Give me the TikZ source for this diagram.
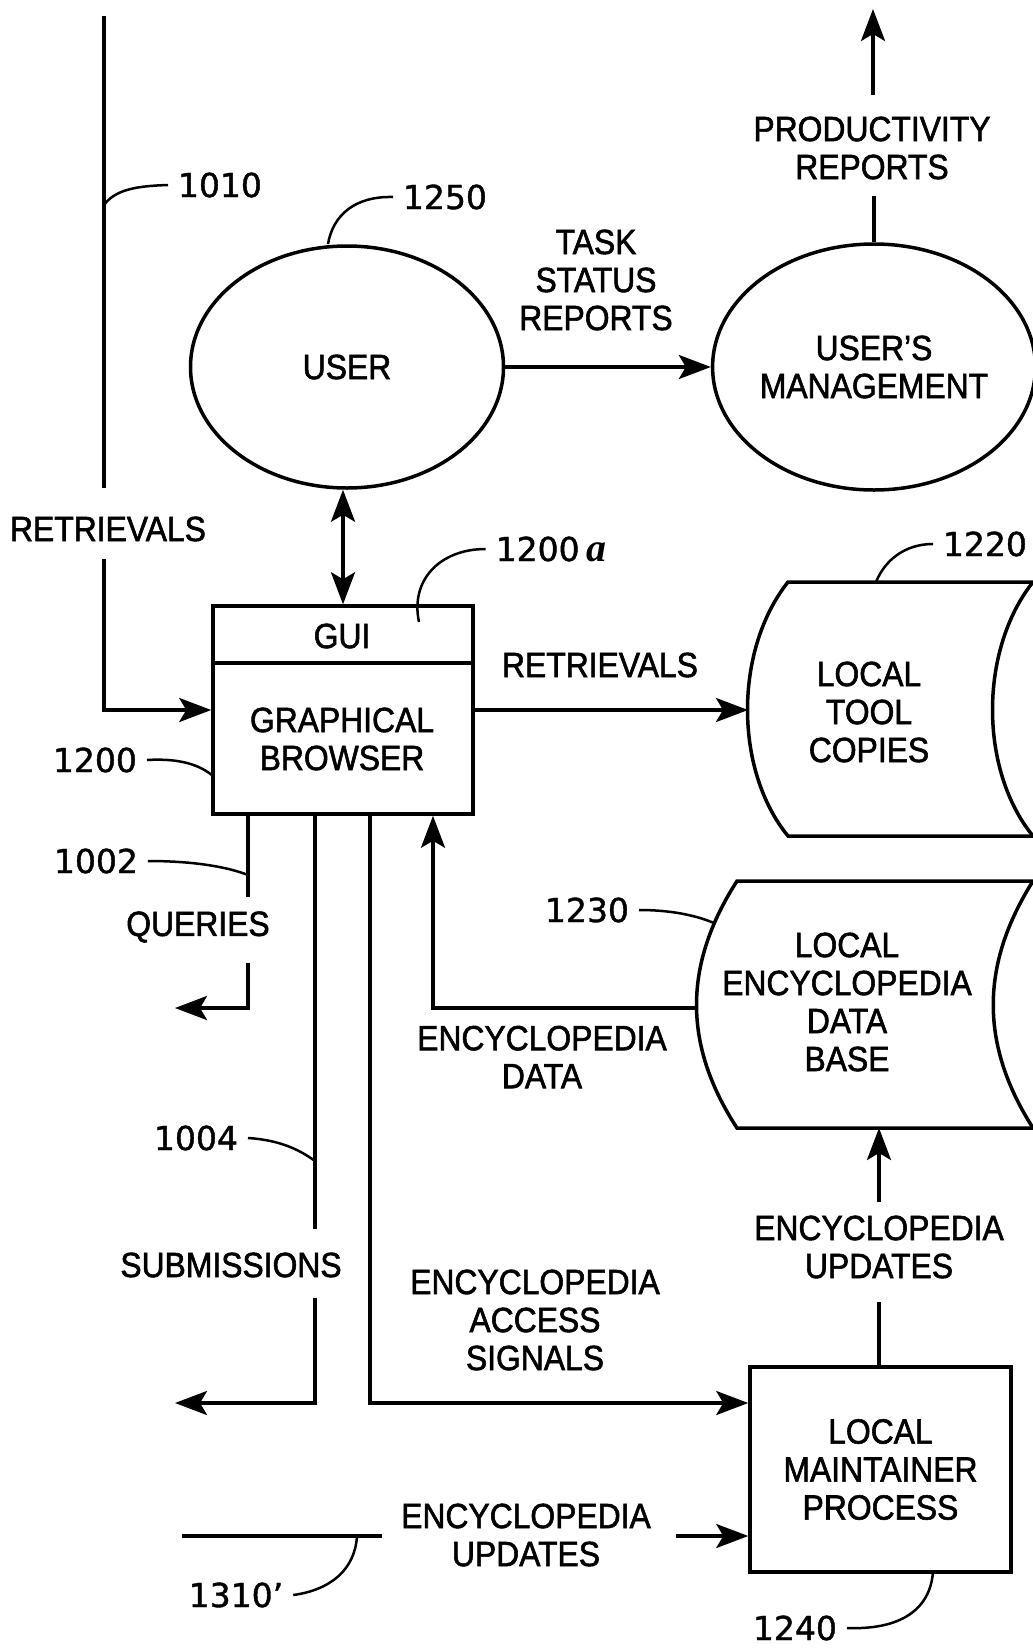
\documentclass[tikz,border=0pt]{standalone}
\usepackage{fontspec}
\setmainfont{Liberation Sans}[FakeStretch=0.91,FakeBold=1.6]
\newfontfamily\numf{DejaVu Sans}[FakeBold=1.2]
\newfontfamily\bif{Liberation Serif}
\usetikzlibrary{arrows.meta,shapes.geometric}
\begin{document}
\begin{tikzpicture}[x=1pt,y=-1pt,
  every node/.style={inner sep=0pt},
  lbl/.style={font=\fontsize{35}{38}\selectfont, align=center},
  num/.style={font=\numf\fontsize{33}{38}\selectfont, outer sep=10pt},
  ln/.style={line width=3.5pt},
  lead/.style={line width=2.5pt},
  ar/.style={line width=3.5pt, -{Stealth[length=32pt,width=24pt,inset=7pt]}},
  dar/.style={line width=3.5pt, {Stealth[length=32pt,width=24pt,inset=7pt]}-{Stealth[length=32pt,width=24pt,inset=7pt]}},
  oval/.style={ellipse, draw, line width=3.5pt, font=\fontsize{35}{38}\selectfont, align=center},
  box/.style={rectangle, draw, line width=3.5pt, font=\fontsize{35}{38}\selectfont, align=center}
]
\fill[white] (0,0) rectangle (1033,1649);
\useasboundingbox (0,0) rectangle (1033,1649);

% main nodes
\node[oval, minimum width=313pt, minimum height=242pt] (user) at (347,367) {USER};
\node[oval, minimum width=310pt, minimum height=246pt] (mgmt) at (874,367) {USER'S\\MANAGEMENT};
\node[box, minimum width=260pt, minimum height=208pt] (gb) at (343,710) {};
\node[lbl] (gui) at (342,636) {GUI};
\node[lbl] (gbt) at (342,739) {GRAPHICAL\\BROWSER};
\coordinate (gdiv) at (343,663);
\draw[ln] (gb.west |- gdiv) -- (gb.east |- gdiv);
\node[box, minimum width=261pt, minimum height=205pt] (mp) at (880.5,1469.5) {LOCAL\\MAINTAINER\\PROCESS};

% storage shapes
\draw[ln] (1033,582) -- (788,582) .. controls (734,650) and (734,770) .. (788,836) -- (1033,836);
\draw[ln] (1033,582) .. controls (979,650) and (979,770) .. (1033,836);
\node[lbl] (tc) at (869,712) {LOCAL\\TOOL\\COPIES};
\coordinate (tcL) at (748,711);
\draw[ln] (1033,881) -- (737,881) .. controls (683,965) and (683,1045) .. (737,1128) -- (1033,1128);
\draw[ln] (1033,881) .. controls (980,965) and (980,1045) .. (1033,1128);
\node[lbl] (db) at (847,1002) {LOCAL\\ENCYCLOPEDIA\\DATA\\BASE};
\coordinate (dbL) at (697,1008);
\coordinate (dbB) at (879,1128);

% flow labels
\node[lbl] (retL) at (108,529) {RETRIEVALS};
\node[lbl] (tsr) at (596,280) {TASK\\STATUS\\REPORTS};
\node[lbl] (prod) at (872,148) {PRODUCTIVITY\\REPORTS};
\node[lbl] (retR) at (600,665) {RETRIEVALS};
\node[lbl] (qry) at (198,927) {QUERIES};
\node[lbl] (edata) at (542,1057) {ENCYCLOPEDIA\\DATA};
\node[lbl] (subm) at (231,1265) {SUBMISSIONS};
\node[lbl] (eacc) at (535,1320) {ENCYCLOPEDIA\\ACCESS\\SIGNALS};
\node[lbl] (eupd) at (879,1247) {ENCYCLOPEDIA\\UPDATES};
\node[lbl] (eupd2) at (526,1535) {ENCYCLOPEDIA\\UPDATES};

% reference numerals
\node[num] (n1010) at (220,185) {1010};
\node[num] (n1250) at (445,197) {1250};
\node[num] (n1200a) at (551,549) {1200{\bif\bfseries\itshape\fontsize{40}{38}\selectfont\,a}};
\node[num] (n1200) at (95,760) {1200};
\node[num] (n1220) at (985,544) {1220};
\node[num] (n1002) at (96,861) {1002};
\node[num] (n1230) at (587,910) {1230};
\node[num] (n1004) at (196,1138) {1004};
\node[num] (n1310) at (236,1595) {1310’};
\node[num] (n1240) at (795,1628) {1240};

% connectors
\coordinate (r1) at (104,16);
\coordinate (r2) at (104,488);
\coordinate (r3) at (104,559);
\draw[ln] (r1) -- (r2);
\draw[ar] (r3) |- (gb.west);

\draw[ar] (user.east) -- (mgmt.west);
\draw[dar] (user.south -| gb.north) -- (gb.north);

\coordinate (pTop) at (873,9);
\coordinate (pBot) at (873,95);
\coordinate (pLab) at (873,196);
\draw[ar] (pBot) -- (pTop);
\draw[ln] (mgmt.north) -- (mgmt.north |- pLab);

\draw[ar] (gb.east) -- (gb.east -| tcL);

\coordinate (q1) at (248,897);
\coordinate (q2) at (248,963);
\coordinate (qEnd) at (175,1008);
\draw[ln] (gb.south -| q1) -- (q1);
\draw[ar] (q2) |- (qEnd);

\coordinate (s1) at (315,1229);
\coordinate (s2) at (315,1298);
\coordinate (sEnd) at (175,1403);
\draw[ln] (gb.south -| s1) -- (s1);
\draw[ar] (s2) |- (sEnd);

\coordinate (aX) at (370,1403);
\draw[ar] (gb.south -| aX) |- (mp.west |- aX);

\coordinate (eX) at (433,1008);
\draw[ar] (dbL) -| (gb.south -| eX);

\coordinate (uX) at (879,1302);
\coordinate (u2) at (879,1202);
\draw[ln] (mp.north -| uX) -- (uX);
\draw[ar] (u2) -- (dbB);

\coordinate (b1) at (182,1536);
\coordinate (b2) at (382,1536);
\coordinate (b3) at (676,1536);
\draw[ln] (b1) -- (b2);
\draw[ar] (b3) -- (mp.west |- b3);

% leaders
\draw[lead] (104,205) .. controls (115,190) and (135,186) .. (n1010.west);
\draw[lead] (328,244) .. controls (333,215) and (355,196) .. (n1250.west);
\draw[lead] (419,622) .. controls (410,580) and (440,549) .. (n1200a.west);
\draw[lead] (n1200.east) .. controls (180,758) and (200,765) .. (213,776);
\draw[lead] (876,582) .. controls (885,560) and (905,544) .. (n1220.west);
\draw[lead] (n1230.east) .. controls (670,910) and (695,915) .. (714,923);
\draw[lead] (n1002.east) .. controls (190,861) and (225,866) .. (248,875);
\draw[lead] (n1004.east) .. controls (280,1140) and (300,1150) .. (315,1161);
\draw[lead] (n1310.east) .. controls (330,1590) and (355,1570) .. (357,1536);
\draw[lead] (n1240.east) .. controls (900,1630) and (930,1610) .. (933,1572);
\end{tikzpicture}
\end{document}
